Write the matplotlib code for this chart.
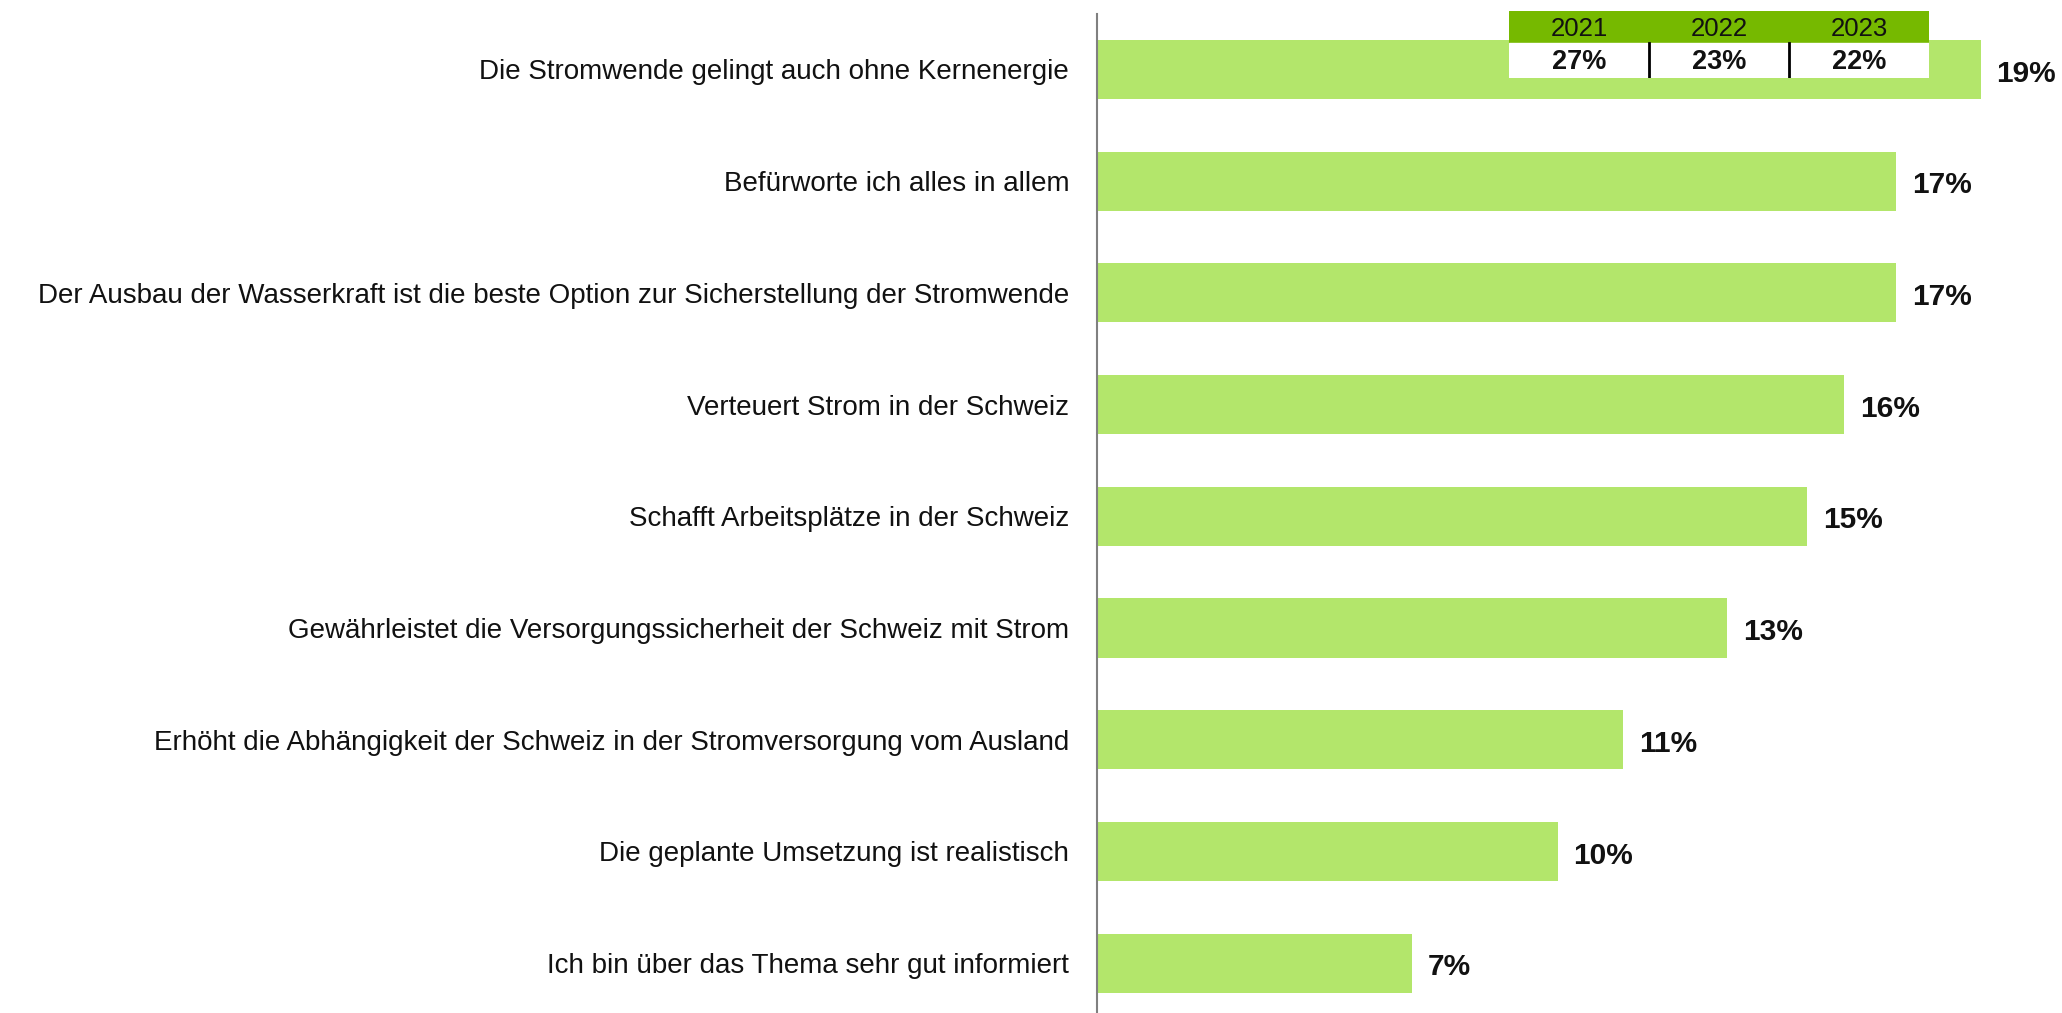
import matplotlib
matplotlib.use("Agg")
import matplotlib.pyplot as plt
from matplotlib.patches import Rectangle

plt.rcParams['font.family'] = ['Liberation Sans', 'DejaVu Sans']

categories = [
    "Die Stromwende gelingt auch ohne Kernenergie",
    "Befürworte ich alles in allem",
    "Der Ausbau der Wasserkraft ist die beste Option zur Sicherstellung der Stromwende",
    "Verteuert Strom in der Schweiz",
    "Schafft Arbeitsplätze in der Schweiz",
    "Gewährleistet die Versorgungssicherheit der Schweiz mit Strom",
    "Erhöht die Abhängigkeit der Schweiz in der Stromversorgung vom Ausland",
    "Die geplante Umsetzung ist realistisch",
    "Ich bin über das Thema sehr gut informiert",
]
values = [18.8, 17.0, 17.0, 15.9, 15.1, 13.4, 11.2, 9.8, 6.7]
value_labels = ["19%", "17%", "17%", "16%", "15%", "13%", "11%", "10%", "7%"]

table_years = ["2021", "2022", "2023"]
table_values = ["27%", "23%", "22%"]

BAR = "#b3e66b"
HEAD = "#76b900"

W, H = 2062, 1013
fig = plt.figure(figsize=(W / 100, H / 100), dpi=100)

ax_left = 1097 / W
ax_top_px = 13.6
ax_bot_px = 1019
ax = fig.add_axes([ax_left, (H - ax_bot_px) / H, 1 - ax_left, (ax_bot_px - ax_top_px) / H])

n = len(categories)
ypos = list(range(n))
ax.barh(ypos, values, height=0.53, color=BAR, zorder=2)
ax.set_ylim(n - 0.5, -0.5)
ax.set_xlim(0, (W - 1097) / 47.0)

for y, v, lab in zip(ypos, values, value_labels):
    ax.annotate(lab, (v, y), xytext=(11.5, -3), textcoords="offset points",
                ha="left", va="center", fontsize=21.5, fontweight="bold", color="#111111")

ax.set_yticks(ypos)
ax.set_yticklabels(categories, fontsize=20, color="#111111")
ax.tick_params(axis="y", length=0, pad=20)
ax.set_xticks([])
for s in ["top", "right", "bottom"]:
    ax.spines[s].set_visible(False)
ax.spines["left"].set_color("#808080")
ax.spines["left"].set_linewidth(1.5)

# Small table top-right
tl, tr, tt, tb = 1509, 1929, 11, 78
tax = fig.add_axes([tl / W, (H - tb) / H, (tr - tl) / W, (tb - tt) / H])
tax.set_xlim(0, 3)
tax.set_ylim(0, 2)
tax.axis("off")
tax.add_patch(Rectangle((0, 1.03), 3, 0.97, color=HEAD, zorder=1))
tax.add_patch(Rectangle((0, 0), 3, 1.03, color="white", zorder=1))
for i, (yr, tv) in enumerate(zip(table_years, table_values)):
    tax.text(i + 0.5, 1.45, yr, ha="center", va="center", fontsize=18.5, color="#111111", zorder=3)
    tax.text(i + 0.5, 0.48, tv, ha="center", va="center", fontsize=19.5, fontweight="bold", color="#111111", zorder=3)
for i in (1, 2):
    tax.plot([i, i], [0, 1.03], color="black", lw=2, zorder=3)

fig.savefig("out.png", dpi=100)
